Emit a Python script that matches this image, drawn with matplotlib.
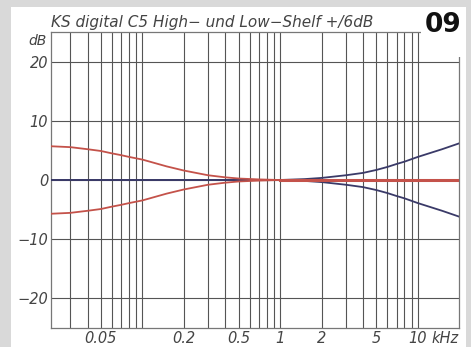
import numpy as np
import matplotlib
matplotlib.use("Agg")
import matplotlib.pyplot as plt
from matplotlib.patches import Rectangle

# frequencies in kHz, levels in dB
low_freq = [0.0217, 0.03, 0.04, 0.05, 0.06, 0.07, 0.08, 0.1, 0.15, 0.2, 0.3, 0.4, 0.5, 0.7, 1.0, 1.5, 2, 5, 10, 20]
low_boost = [5.7, 5.55, 5.2, 4.9, 4.5, 4.2, 3.9, 3.45, 2.3, 1.6, 0.8, 0.45, 0.25, 0.1, 0.0, 0.0, 0.0, 0.0, 0.0, 0.0]
high_freq = [0.0217, 0.1, 0.5, 1.0, 1.5, 2, 3, 4, 5, 6, 7, 8, 10, 15, 20]
high_boost = [0.0, 0.0, 0.0, 0.0, 0.15, 0.35, 0.8, 1.2, 1.7, 2.2, 2.7, 3.1, 3.9, 5.2, 6.2]

grid_x = [0.03, 0.04, 0.05, 0.06, 0.07, 0.08, 0.09, 0.1, 0.2, 0.3, 0.4, 0.5, 0.6, 0.7, 0.8, 0.9,
          1, 2, 3, 4, 5, 6, 7, 8, 9, 10]
grid_y = [-20, -10, 0, 10, 20]
x_ticks = [0.05, 0.2, 0.5, 1, 2, 5, 10]
x_labels = ["0.05", "0.2", "0.5", "1", "2", "5", "10"]

red = "#c4524a"
navy = "#3a3a68"
txt = "#444444"

fig = plt.figure(figsize=(4.71, 3.47), dpi=100)
fig.patch.set_facecolor("#d9d9d9")
# white panel behind everything
fig.patches.append(Rectangle((11 / 471, 0), (466 - 11) / 471, 1 - 7 / 347,
                             transform=fig.transFigure, facecolor="white", edgecolor="none", zorder=-5))

ax = fig.add_axes([51 / 471, 1 - 328 / 347, (459.3 - 51) / 471, (328 - 32) / 347])
ax.set_xscale("log")
ax.set_xlim(0.0217, 20)
ax.set_ylim(-25, 25)

for gx in grid_x:
    ax.axvline(gx, color="#555555", lw=0.8, zorder=1)
for gy in grid_y:
    ax.axhline(gy, color="#555555", lw=0.8, zorder=1)

lb = np.array(low_boost)
hb = np.array(high_boost)
ax.plot(high_freq, hb, color=navy, lw=1.3, zorder=3)
ax.plot(high_freq, -hb, color=navy, lw=1.3, zorder=3)
ax.plot(low_freq, lb, color=red, lw=1.3, zorder=4)
ax.plot(low_freq, -lb, color=red, lw=1.3, zorder=4)
# flat part of the low shelf sits on top at the right
mask = np.array(low_freq) >= 1.0
ax.plot(np.array(low_freq)[mask], lb[mask], color=red, lw=2.2, zorder=5)

for s in ax.spines.values():
    s.set_color("#777777")
    s.set_linewidth(0.9)

ax.set_xticks(x_ticks)
ax.set_xticklabels(x_labels)
ax.xaxis.set_minor_locator(matplotlib.ticker.NullLocator())
ax.set_yticks(grid_y)
ax.set_yticklabels(["\u221220", "\u221210", "0", "10", "20"])
ax.tick_params(length=0, pad=2, labelsize=10.5, colors=txt)
for lab in ax.get_xticklabels() + ax.get_yticklabels():
    lab.set_style("italic")

ax.annotate("kHz", xy=(12.5, 0), xycoords=("data", "axes fraction"), xytext=(0, -2),
            textcoords="offset points", ha="left", va="top", fontsize=10.5, style="italic",
            color=txt, annotation_clip=False)
ax.text(-0.01, 1 - 9 / 296, "dB", transform=ax.transAxes, ha="right", va="center",
        fontsize=10, style="italic", color=txt)

# top right corner cut for the number box
fig.patches.append(Rectangle((421 / 471, 1 - 57 / 347), 45 / 471, 50 / 347,
                             transform=fig.transFigure, facecolor="white", edgecolor="none", zorder=5))
fig.text(51 / 471, 1 - 22 / 347, "KS digital C5 High\u2212 und Low\u2212Shelf +/6dB", ha="left", va="center",
         fontsize=11, style="italic", color=txt, zorder=6)
fig.text(443 / 471, 1 - 25 / 347, "09", ha="center", va="center", fontsize=19, fontweight="bold",
         family=["Liberation Sans Narrow", "DejaVu Sans"], color="#111111", zorder=6)

fig.savefig("out.png", dpi=100, facecolor=fig.get_facecolor())
